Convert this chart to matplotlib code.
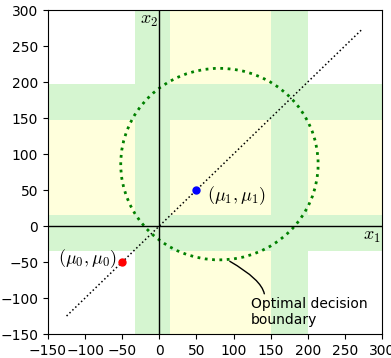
import matplotlib.pyplot as plt
import numpy as np
from matplotlib.patches import Circle

plt.rcParams["mathtext.fontset"] = "cm"

# data
mu0 = (-50, -50)
mu1 = (50, 50)
circle_center = (81, 86)
circle_radius = 133
diag_ends = [-125, 272]
green_bands = [(-33, 15), (150, 200)]
yellow_bands = [(15, 150)]
green_hbands = [(-35, 15), (147, 197)]
yellow_hbands = [(15, 147)]
ticks = np.arange(-150, 301, 50)

YELLOW = "#ffffdc"
GREEN = "#d5f5d0"

fig = plt.figure(figsize=(3.91, 3.58), dpi=100)
ax = fig.add_axes([0.1228, 0.067, 0.854, 0.905])

for lo, hi in yellow_bands:
    ax.axvspan(lo, hi, color=YELLOW, lw=0, zorder=0)
for lo, hi in yellow_hbands:
    ax.axhspan(lo, hi, color=YELLOW, lw=0, zorder=0)
for lo, hi in green_bands:
    ax.axvspan(lo, hi, color=GREEN, lw=0, zorder=0.5)
for lo, hi in green_hbands:
    ax.axhspan(lo, hi, color=GREEN, lw=0, zorder=0.5)

ax.axhline(0, color="k", lw=1)
ax.axvline(0, color="k", lw=1)

ax.plot(diag_ends, diag_ends, ":", color="k", lw=1.1)

circ = Circle(circle_center, circle_radius, fill=False, ls=":",
              lw=2, color="green")
ax.add_patch(circ)

ax.plot(*mu0, "o", color="red", ms=5)
ax.plot(*mu1, "o", color="blue", ms=5)
ax.text(-57, -45, r"$(\mu_0,\mu_0)$", ha="right", va="center", fontsize=13)
ax.text(64, 42, r"$(\mu_1,\mu_1)$", ha="left", va="center", fontsize=13)
ax.text(298, -2, r"$x_1$", ha="right", va="top", fontsize=13)
ax.text(-2, 298, r"$x_2$", ha="right", va="top", fontsize=13)

ax.annotate("Optimal decision\nboundary", xy=(95, -49), xytext=(123, -98),
            ha="left", va="top", fontsize=10,
            arrowprops=dict(arrowstyle="-", color="k", lw=1,
                            shrinkA=0, shrinkB=0,
                            connectionstyle="angle3,angleA=90,angleB=-30",
                            relpos=(0.12, 1.0)))

ax.set_xlim(-150, 300)
ax.set_ylim(-150, 300)
ax.set_xticks(ticks)
ax.set_yticks(ticks)

fig.savefig("out.png", dpi=100)
